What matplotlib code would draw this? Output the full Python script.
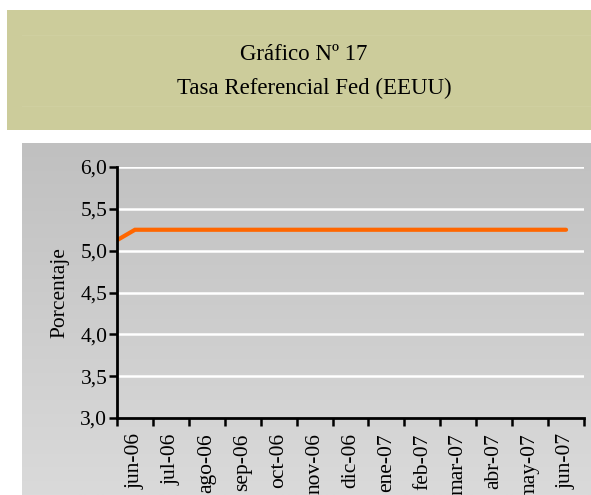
import numpy as np
import matplotlib.pyplot as plt
from matplotlib.patches import Rectangle
from matplotlib.ticker import FixedLocator, FuncFormatter

# ----------------------------------------------------------------------
# DATA
# ----------------------------------------------------------------------

months = ["jun-06", "jul-06", "ago-06", "sep-06", "oct-06", "nov-06", "dic-06",
          "ene-07", "feb-07", "mar-07", "abr-07", "may-07", "jun-07"]
# previous month (may-06) sits just outside the visible axis
prev_value = 5.0
fed_rate = [5.25, 5.25, 5.25, 5.25, 5.25, 5.25, 5.25,
            5.25, 5.25, 5.25, 5.25, 5.25, 5.25]

title_lines = ["Gráfico Nº 17", "Tasa Referencial Fed (EEUU)"]

# ----------------------------------------------------------------------
# FIGURE
# ----------------------------------------------------------------------

W, H = 591, 495
fig = plt.figure(figsize=(W / 100, H / 100), dpi=100)
plt.rcParams['font.family'] = ['Liberation Serif', 'DejaVu Serif']


def fx(px):
    return px / W


def fy(py):
    return 1 - py / H


# header band
fig.patches.append(Rectangle((fx(7), fy(130)), fx(584), 120 / H, transform=fig.transFigure,
                             facecolor="#CCCC9B", edgecolor="none", zorder=0))
for yy in (35, 106):
    fig.add_artist(plt.Line2D([fx(22), 1], [fy(yy), fy(yy)], transform=fig.transFigure,
                              color="#D0D0A2", lw=0.6))
fig.text(fx(304), fy(55), title_lines[0], ha="center", va="center", fontsize=16.5)
fig.text(fx(314), fy(88), title_lines[1], ha="center", va="center", fontsize=16.5)

# chart background with vertical gradient
bg = fig.add_axes([fx(22), 0, 1 - fx(22), fy(143)], zorder=0)
grad = np.linspace(0, 1, 256).reshape(-1, 1)
top = np.array([192, 192, 192]) / 255
bot = np.array([218, 218, 218]) / 255
img = top + (bot - top) * grad[:, :, None]
bg.imshow(img, aspect="auto", extent=[0, 1, 1, 0])
bg.set_axis_off()

# plot area
ax = fig.add_axes([fx(117), fy(418), fx(584 - 117), (418 - 167) / H], zorder=1)
ax.patch.set_alpha(0)

x = np.arange(len(months))
xs = np.concatenate([[x[0] - 1], x])
ys = [prev_value] + fed_rate
ax.plot(xs, ys, color="#FF6600", lw=3.0, solid_capstyle="round", solid_joinstyle="miter",
        zorder=3)

ax.set_xlim(-0.5, len(months) - 0.5)
ax.set_ylim(3.0, 6.0)

yt = np.arange(3.0, 6.01, 0.5)
ax.set_yticks(yt)
ax.yaxis.set_major_formatter(FuncFormatter(lambda v, p: f"{v:.1f}".replace(".", ",")))
for v in yt[1:]:
    ax.axhline(v, color="white", lw=1.8, zorder=1)

ax.xaxis.set_major_locator(FixedLocator(np.arange(-0.5, len(months), 1.0)))
ax.xaxis.set_major_formatter(FuncFormatter(lambda v, p: ""))
ax.xaxis.set_minor_locator(FixedLocator(x))
ax.set_xticklabels(months, minor=True, rotation=90, fontsize=15.5)
ax.tick_params(axis="x", which="minor", length=0, pad=11)
ax.tick_params(axis="x", which="major", direction="out", length=5.5, width=1.8)
ax.tick_params(axis="y", direction="out", length=6, width=1.8, labelsize=15.5, pad=1)

for s in ("top", "right"):
    ax.spines[s].set_visible(False)
for s in ("left", "bottom"):
    ax.spines[s].set_linewidth(2)
    ax.spines[s].set_zorder(4)

ax.set_ylabel("Porcentaje", fontsize=15.5, labelpad=8)

fig.savefig("out.png", dpi=100)
